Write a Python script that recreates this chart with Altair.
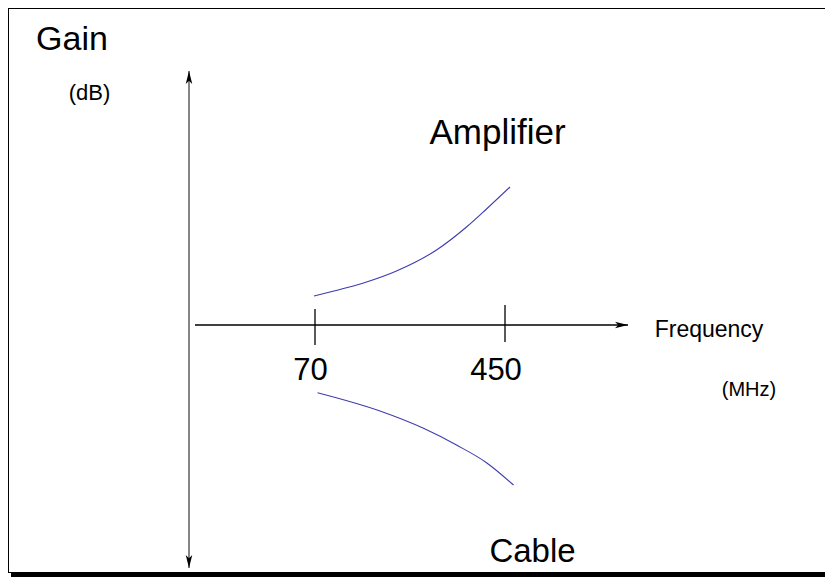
import altair as alt
import pandas as pd

# Curve data (frequency in MHz, gain in arbitrary dB units)
amp_freq = [68, 100, 167, 233, 313, 373, 413, 460]
amp_gain = [2.9, 3.3, 4.2, 5.4, 7.5, 9.8, 11.6, 13.8]
cable_freq = [75, 200, 287, 353, 413, 467]
cable_gain = [-6.77, -8.6, -10.33, -12.0, -13.77, -16.0]

# Frequency axis ticks
tick_values = [70, 450]
tick_top = [1.6, 2.0]
tick_bottom = [-2.0, -1.7]
tick_label_x = [61, 432]
tick_label_y = [-4.6, -4.6]

# Axes (arrows)
h_axis = {"x": -170, "x2": 696, "y": 0}
v_axis = {"x": -182, "y": -24.3, "y2": 25.4}

# Text annotations
label_text = ["Gain", "(dB)", "Amplifier", "Frequency", "(MHz)", "Cable"]
label_x = [-416, -381, 435, 858, 938, 505]
label_y = [28.5, 23.2, 19.2, -0.5, -6.5, -22.7]
label_size = [34, 22, 35, 23, 20, 33]

W, H = 817, 569
X_DOMAIN = [-544, -544 + 2 * W]
Y_DOMAIN = [31.7 - H / 10, 31.7]

xs = alt.Scale(domain=X_DOMAIN, nice=False, zero=False)
ys = alt.Scale(domain=Y_DOMAIN, nice=False, zero=False)

curves = pd.DataFrame({
    "f": amp_freq + cable_freq,
    "g": amp_gain + cable_gain,
    "series": ["Amplifier"] * len(amp_freq) + ["Cable"] * len(cable_freq),
})
ticks = pd.DataFrame({"f": tick_values, "g1": tick_top, "g2": tick_bottom})
tick_labels = pd.DataFrame({"f": tick_label_x, "g": tick_label_y,
                            "t": [str(v) for v in tick_values]})
labels = pd.DataFrame({"t": label_text, "f": label_x, "g": label_y, "s": label_size})

haxis_df = pd.DataFrame([h_axis])
vaxis_df = pd.DataFrame([v_axis])

arrows = pd.DataFrame({
    "f": [h_axis["x2"], v_axis["x"], v_axis["x"]],
    "g": [h_axis["y"], v_axis["y2"], v_axis["y"]],
    "dir": ["right", "up", "down"],
})

X = lambda f="f": alt.X(f"{f}:Q", scale=xs, axis=None)
Y = lambda f="g": alt.Y(f"{f}:Q", scale=ys, axis=None)

curve_layer = alt.Chart(curves).mark_line(
    strokeWidth=1.1, color="#3c3cae", interpolate="monotone"
).encode(x=X(), y=Y(), detail="series:N")

hline = alt.Chart(haxis_df).mark_rule(color="black", strokeWidth=1.3).encode(
    x=alt.X("x:Q", scale=xs, axis=None), x2="x2:Q", y=alt.Y("y:Q", scale=ys, axis=None)
)
vline = alt.Chart(vaxis_df).mark_rule(color="#444444", strokeWidth=1.3).encode(
    x=alt.X("x:Q", scale=xs, axis=None), y=alt.Y("y:Q", scale=ys, axis=None), y2="y2:Q"
)
tick_layer = alt.Chart(ticks).mark_rule(color="black", strokeWidth=1.3).encode(
    x=X(), y=alt.Y("g1:Q", scale=ys, axis=None), y2="g2:Q"
)

shapes = {
    "right": "M0,0 L-1.4,-0.35 L-1.05,0 L-1.4,0.35 Z",
    "up": "M0,0 L0.35,1.4 L0,1.05 L-0.35,1.4 Z",
    "down": "M0,0 L0.35,-1.4 L0,-1.05 L-0.35,-1.4 Z",
}
arrow_layers = []
for d, path in shapes.items():
    arrow_layers.append(
        alt.Chart(arrows).transform_filter(alt.datum.dir == d).mark_point(
            shape=path, filled=True, color="black", size=345, opacity=1, strokeWidth=0
        ).encode(x=X(), y=Y())
    )

tick_text = alt.Chart(tick_labels).mark_text(
    font="Liberation Sans", fontSize=31, baseline="middle", align="center", color="black"
).encode(x=X(), y=Y(), text="t:N")

label_layers = []
for size in sorted(set(label_size)):
    label_layers.append(
        alt.Chart(labels).transform_filter(alt.datum.s == size).mark_text(
            font="Liberation Sans", fontSize=size, baseline="middle", align="center", color="black"
        ).encode(x=X(), y=Y(), text="t:N")
    )

# Frame around the figure
frame_top = alt.Chart(haxis_df).mark_rule(color="black", strokeWidth=1).encode(
    x=alt.value(0), x2=alt.value(W), y=alt.value(0.5)
)
frame_left = alt.Chart(haxis_df).mark_rule(color="black", strokeWidth=1).encode(
    x=alt.value(0.5), y=alt.value(0), y2=alt.value(565)
)
frame_bottom = alt.Chart(haxis_df).mark_rule(color="black", strokeWidth=1).encode(
    x=alt.value(0), x2=alt.value(W), y=alt.value(564.5)
)
frame_shadow = alt.Chart(haxis_df).mark_rule(color="black", strokeWidth=4).encode(
    x=alt.value(3), x2=alt.value(W), y=alt.value(567)
)

chart = alt.layer(
    frame_top, frame_left, frame_bottom, frame_shadow,
    hline, vline, tick_layer, curve_layer, *arrow_layers, tick_text, *label_layers
).properties(
    width=W, height=H, autosize="none", padding=0, background="white"
).configure_view(stroke=None)

chart.save("out.html", embed_options={"renderer": "svg", "actions": False})
